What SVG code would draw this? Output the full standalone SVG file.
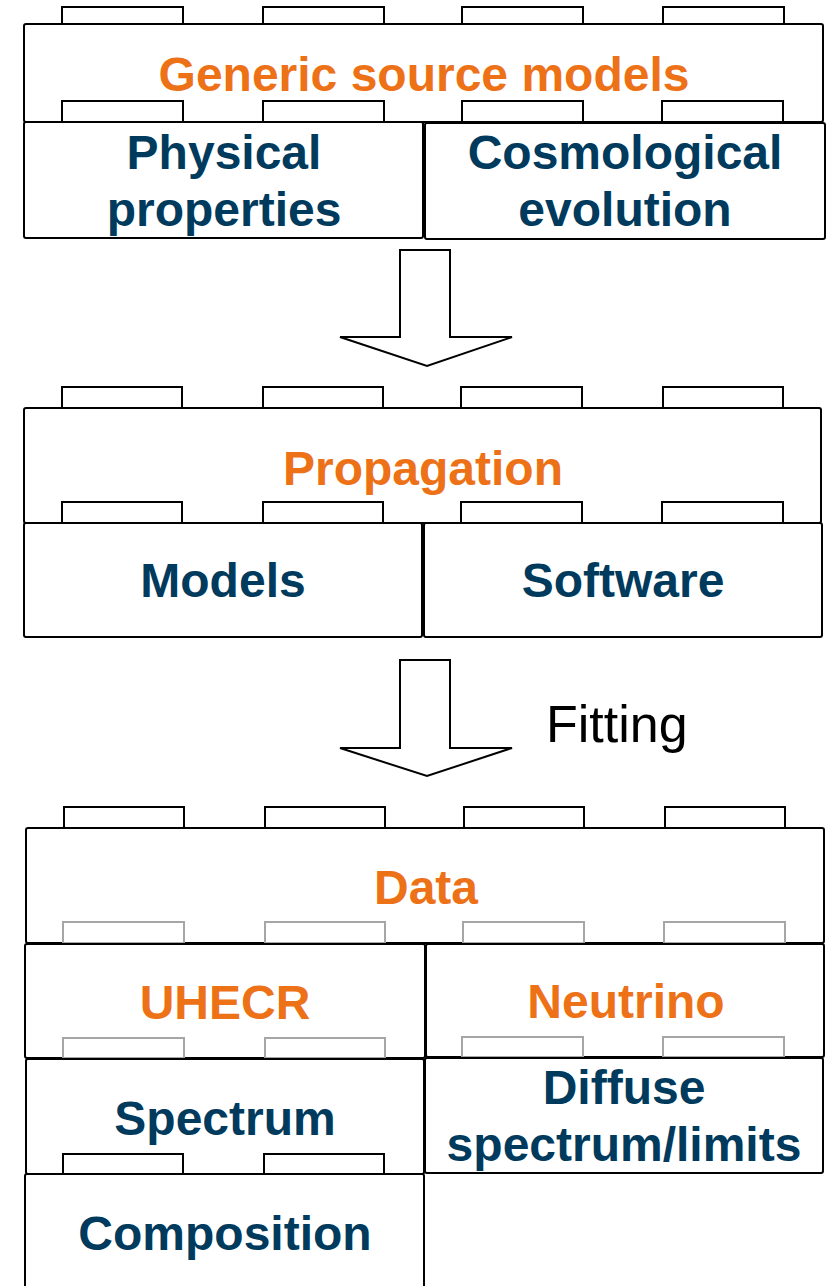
<svg xmlns="http://www.w3.org/2000/svg" width="833" height="1286" viewBox="0 0 833 1286">
<style>
.box{fill:#fff;stroke:#000;stroke-width:2}
.stud{fill:#fff;stroke:#000;stroke-width:2}
.gstud{fill:#fff;stroke:#a6a6a6;stroke-width:2}
.arrow{fill:#fff;stroke:#000;stroke-width:2;stroke-linejoin:miter}
.or{font-family:"Liberation Sans",Arial,sans-serif;font-weight:bold;font-size:48px;fill:#ED7117;text-anchor:middle}
.nv{font-family:"Liberation Sans",Arial,sans-serif;font-weight:bold;font-size:48px;fill:#003A5D;text-anchor:middle}
.plain{font-family:"Liberation Sans",Arial,sans-serif;font-size:52px;fill:#000}
</style>
<rect width="833" height="1286" fill="#fff"/>

<g id="generic-source-models">
<rect class="stud" x="62" y="7" width="121" height="17"/>
<rect class="stud" x="263" y="7" width="121" height="17"/>
<rect class="stud" x="462" y="7" width="121" height="17"/>
<rect class="stud" x="663" y="7" width="121" height="17"/>
<rect class="box" x="24" y="24" width="799" height="98" rx="2"/>
<rect class="stud" x="62" y="101" width="121" height="21"/>
<rect class="stud" x="263" y="101" width="121" height="21"/>
<rect class="stud" x="462" y="101" width="121" height="21"/>
<rect class="stud" x="662" y="101" width="121" height="21"/>
<text class="or" x="424" y="91">Generic source models</text>
</g>
<g id="physical-properties">
<rect class="box" x="24" y="122" width="399" height="116" rx="2"/>
<text class="nv" x="224" y="169">Physical</text>
<text class="nv" x="224" y="226">properties</text>
</g>
<g id="cosmological-evolution">
<rect class="box" x="425" y="123" width="400" height="116" rx="2"/>
<text class="nv" x="625" y="169">Cosmological</text>
<text class="nv" x="625" y="226">evolution</text>
</g>

<g id="propagation">
<rect class="stud" x="62" y="387" width="120" height="21"/>
<rect class="stud" x="263" y="387" width="120" height="21"/>
<rect class="stud" x="461" y="387" width="121" height="21"/>
<rect class="stud" x="663" y="387" width="120" height="21"/>
<rect class="box" x="24" y="408" width="797" height="115" rx="2"/>
<rect class="stud" x="62" y="502" width="120" height="21"/>
<rect class="stud" x="263" y="502" width="120" height="21"/>
<rect class="stud" x="461" y="502" width="121" height="21"/>
<rect class="stud" x="662" y="502" width="121" height="21"/>
<text class="or" x="423" y="485">Propagation</text>
</g>
<g id="models">
<rect class="box" x="24" y="523" width="398" height="114" rx="2"/>
<text class="nv" x="223" y="597">Models</text>
</g>
<g id="software">
<rect class="box" x="424" y="523" width="398" height="114" rx="2"/>
<text class="nv" x="623" y="597">Software</text>
</g>

<g id="data">
<rect class="stud" x="64" y="807" width="120" height="21"/>
<rect class="stud" x="265" y="807" width="120" height="21"/>
<rect class="stud" x="464" y="807" width="120" height="21"/>
<rect class="stud" x="665" y="807" width="120" height="21"/>
<rect class="box" x="26" y="828" width="798" height="115" rx="2"/>
<rect class="gstud" x="63" y="922" width="121" height="21"/>
<rect class="gstud" x="265" y="922" width="120" height="21"/>
<rect class="gstud" x="463" y="922" width="121" height="21"/>
<rect class="gstud" x="664" y="922" width="121" height="21"/>
<text class="or" x="426" y="904">Data</text>
</g>
<g id="uhecr">
<rect class="box" x="25" y="944" width="400" height="114" rx="2"/>
<rect class="gstud" x="63" y="1038" width="121" height="20"/>
<rect class="gstud" x="265" y="1038" width="120" height="20"/>
<text class="or" x="225" y="1019">UHECR</text>
</g>
<g id="neutrino">
<rect class="box" x="426" y="944" width="398" height="113" rx="2"/>
<rect class="gstud" x="462" y="1037" width="121" height="20"/>
<rect class="gstud" x="663" y="1037" width="121" height="20"/>
<text class="or" x="626" y="1018">Neutrino</text>
</g>
<g id="spectrum">
<rect class="box" x="26" y="1059" width="398" height="115" rx="2"/>
<rect class="stud" x="63" y="1154" width="120" height="20"/>
<rect class="stud" x="264" y="1154" width="120" height="20"/>
<text class="nv" x="225" y="1135">Spectrum</text>
</g>
<g id="diffuse">
<rect class="box" x="425" y="1058" width="398" height="115" rx="2"/>
<text class="nv" x="624" y="1104">Diffuse</text>
<text class="nv" x="624" y="1161">spectrum/limits</text>
</g>
<g id="composition">
<rect class="box" x="25" y="1174" width="399" height="130" rx="2"/>
<text class="nv" x="225" y="1250">Composition</text>
</g>

<g id="connectors">
<polygon class="arrow" points="400,250 450,250 450,337 512,337 427,366 340,337 400,337"/>
<polygon class="arrow" points="400,660 450,660 450,748 512,748 427,776 340,748 400,748"/>
<text class="plain" x="546" y="742">Fitting</text>
</g>
</svg>
